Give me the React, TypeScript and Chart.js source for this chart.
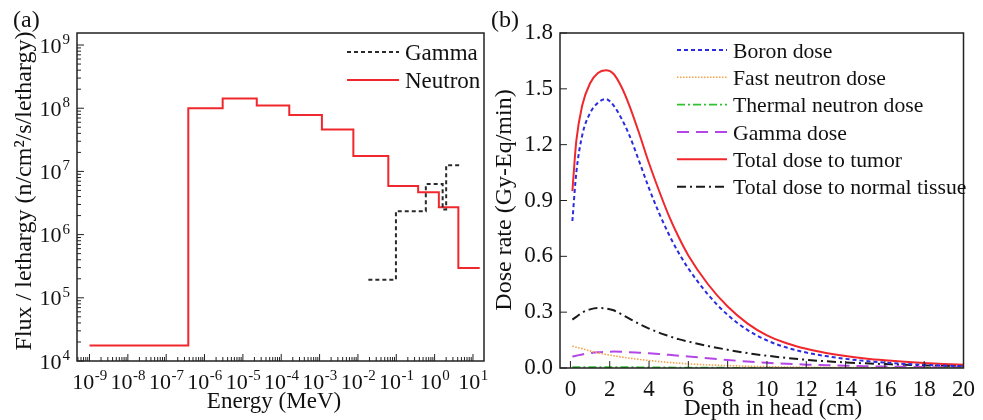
import React, { useEffect, useRef } from "react";
import { Chart, registerables } from "chart.js";

Chart.register(...registerables);

const SERIF = "'Liberation Serif', 'Times New Roman', Times, serif";

// ---------- Panel (a): energy spectra (step histograms) ----------
const neutronEdges = [1e-9, 3.77e-7, 2.97e-6, 2.3e-5, 1.62e-4, 1.15e-3, 7.6e-3, 6.2e-2, 0.372, 1.29, 4.16, 15];
const neutronFlux = [1.76e4, 1.0e8, 1.43e8, 1.1e8, 7.8e7, 4.6e7, 1.76e7, 5.9e6, 4.7e6, 2.7e6, 2.95e5];
const gammaEdges = [0.0187, 0.098, 0.59, 1.62, 2.0, 5.07];
const gammaFlux = [1.93e5, 2.35e6, 6.3e6, 2.5e6, 1.25e7];
const energyExponents = [-9, -8, -7, -6, -5, -4, -3, -2, -1, 0, 1];
const fluxExponents = [4, 5, 6, 7, 8, 9];
const energyRange = [4.72e-10, 19.4];
const fluxRange = [1e4, 1.55e9];
const legendA = ["Gamma", "Neutron"];

// ---------- Panel (b): depth-dose curves ----------
const depth = [0.1, 0.3, 0.6, 1.0, 1.4, 1.8, 2.2, 2.6, 3.0, 3.5, 4, 4.5, 5, 5.5, 6, 7, 8, 9, 10, 11, 12, 13, 14, 15, 16, 17, 18, 19, 20];
const boronDose = [0.79, 1.05, 1.25, 1.37, 1.425, 1.445, 1.41, 1.34, 1.25, 1.11, 0.965, 0.835, 0.72, 0.62, 0.535, 0.395, 0.285, 0.205, 0.148, 0.11, 0.083, 0.064, 0.049, 0.038, 0.029, 0.022, 0.017, 0.013, 0.01];
const fastNeutronDose = [0.117, 0.112, 0.104, 0.092, 0.082, 0.073, 0.066, 0.059, 0.053, 0.046, 0.04, 0.035, 0.03, 0.026, 0.022, 0.017, 0.013, 0.0095, 0.007, 0.0053, 0.004, 0.003, 0.0023, 0.0018, 0.0014, 0.0011, 0.0009, 0.0007, 0.0006];
const thermalNeutronDose = [0.004, 0.0045, 0.005, 0.0052, 0.0052, 0.005, 0.0048, 0.0045, 0.0042, 0.0038, 0.0034, 0.003, 0.0027, 0.0024, 0.0021, 0.0016, 0.0012, 0.0009, 0.0007, 0.0005, 0.0004, 0.0003, 0.0003, 0.0002, 0.0002, 0.0002, 0.0001, 0.0001, 0.0001];
const gammaDose = [0.062, 0.066, 0.073, 0.08, 0.085, 0.087, 0.088, 0.087, 0.085, 0.082, 0.079, 0.075, 0.071, 0.066, 0.062, 0.052, 0.043, 0.035, 0.028, 0.023, 0.018, 0.015, 0.012, 0.0095, 0.0077, 0.0062, 0.005, 0.0041, 0.0034];
const tumorDose = [0.95, 1.22, 1.41, 1.53, 1.585, 1.6, 1.58, 1.51, 1.41, 1.26, 1.1, 0.955, 0.82, 0.705, 0.605, 0.45, 0.33, 0.24, 0.175, 0.133, 0.103, 0.081, 0.064, 0.051, 0.041, 0.033, 0.027, 0.022, 0.018];
const normalTissueDose = [0.26, 0.275, 0.298, 0.315, 0.322, 0.32, 0.31, 0.288, 0.265, 0.237, 0.212, 0.19, 0.172, 0.155, 0.142, 0.118, 0.098, 0.08, 0.066, 0.054, 0.044, 0.036, 0.03, 0.025, 0.021, 0.017, 0.014, 0.012, 0.01];
const depthTicks = [0, 2, 4, 6, 8, 10, 12, 14, 16, 18, 20];
const doseTicks = [0, 0.3, 0.6, 0.9, 1.2, 1.5, 1.8];
const depthRange = [-0.53, 20];
const doseRange = [0, 1.8];
const seriesNamesB = [
  "Boron dose",
  "Fast neutron dose",
  "Thermal neutron dose",
  "Gamma dose",
  "Total dose to tumor",
  "Total dose to normal tissue",
];

const font = (px: number) => `${px}px ${SERIF}`;

function stepPoints(edges: number[], vals: number[]) {
  return edges.map((e, i) => ({ x: e, y: vals[Math.min(i, vals.length - 1)] }));
}

function drawLegend(ctx: CanvasRenderingContext2D, items: any[], x0: number, x1: number, tx: number, ys: number[], size: number) {
  items.forEach((it, i) => {
    const y = ys[i];
    ctx.save();
    ctx.strokeStyle = it.color;
    ctx.lineWidth = it.width;
    ctx.setLineDash(it.dash || []);
    ctx.beginPath();
    ctx.moveTo(x0, y);
    ctx.lineTo(x1, y);
    ctx.stroke();
    ctx.restore();
    ctx.fillStyle = "#111";
    ctx.font = font(size);
    ctx.textAlign = "left";
    ctx.textBaseline = "alphabetic";
    ctx.fillText(it.label, tx, y + 7.5);
  });
}

const decorA = {
  id: "decorA",
  afterDraw(chart: any) {
    const { ctx, chartArea: ca } = chart;
    const xs = chart.scales.x;
    const ys = chart.scales.y;
    ctx.save();
    ctx.setLineDash([]);
    ctx.strokeStyle = "#222";
    ctx.lineWidth = 1.5;
    ctx.strokeRect(ca.left, ca.top, ca.right - ca.left, ca.bottom - ca.top);
    // ticks (inward)
    ctx.lineWidth = 1;
    ctx.beginPath();
    for (let e = -10; e <= 1; e++) {
      for (let m = 1; m <= 9; m++) {
        const v = m * Math.pow(10, e);
        if (v < xs.min || v > xs.max) continue;
        const px = xs.getPixelForValue(v);
        const len = m === 1 ? 7 : 4;
        ctx.moveTo(px, ca.bottom);
        ctx.lineTo(px, ca.bottom - len);
      }
    }
    for (let e = 4; e <= 9; e++) {
      for (let m = 1; m <= 9; m++) {
        const v = m * Math.pow(10, e);
        if (v < ys.min || v > ys.max) continue;
        const py = ys.getPixelForValue(v);
        const len = m === 1 ? 7 : 4;
        ctx.moveTo(ca.left, py);
        ctx.lineTo(ca.left + len, py);
      }
    }
    ctx.stroke();

    ctx.fillStyle = "#111";
    ctx.textBaseline = "alphabetic";
    // x tick labels
    energyExponents.forEach((ex) => {
      const px = xs.getPixelForValue(Math.pow(10, ex));
      const sup = String(ex);
      ctx.font = font(22);
      const wb = ctx.measureText("10").width;
      ctx.font = font(15);
      const ws = ctx.measureText(sup).width;
      const start = px - (wb + ws) / 2;
      ctx.textAlign = "left";
      ctx.font = font(22);
      ctx.fillText("10", start, ca.bottom + 28);
      ctx.font = font(15);
      ctx.fillText(sup, start + wb + 0.5, ca.bottom + 19);
    });
    // y tick labels
    fluxExponents.forEach((ex) => {
      const py = ys.getPixelForValue(Math.pow(10, ex));
      const sup = String(ex);
      ctx.font = font(15);
      const ws = ctx.measureText(sup).width;
      const right = ca.left - 7;
      ctx.textAlign = "left";
      ctx.fillText(sup, right - ws, py - 1);
      ctx.font = font(22);
      ctx.textAlign = "right";
      ctx.fillText("10", right - ws - 1, py + 7.5);
    });

    // axis titles
    ctx.font = font(23);
    ctx.textAlign = "center";
    ctx.fillText("Energy (MeV)", 274, 408);
    ctx.save();
    ctx.translate(31, 191);
    ctx.rotate(-Math.PI / 2);
    ctx.font = font(24);
    ctx.textAlign = "center";
    ctx.fillText("Flux / lethargy (n/cm\u00B2/s/lethargy)", 0, 0);
    ctx.restore();

    // panel label
    ctx.font = font(24);
    ctx.textAlign = "left";
    ctx.fillText("(a)", 13, 27);

    // legend
    const ds = chart.data.datasets;
    drawLegend(
      ctx,
      ds.map((d: any) => ({ label: d.label, color: d.borderColor, width: d.borderWidth, dash: d.borderDash })),
      347,
      399,
      405,
      [52, 80],
      23
    );
    ctx.restore();
  },
};

const decorB = {
  id: "decorB",
  afterDraw(chart: any) {
    const { ctx, chartArea: ca } = chart;
    const xs = chart.scales.x;
    const ys = chart.scales.y;
    ctx.save();
    ctx.setLineDash([]);
    ctx.strokeStyle = "#222";
    ctx.lineWidth = 1.5;
    ctx.strokeRect(ca.left, ca.top, ca.right - ca.left, ca.bottom - ca.top);
    ctx.lineWidth = 1;
    ctx.beginPath();
    doseTicks.forEach((v) => {
      const py = ys.getPixelForValue(v);
      ctx.moveTo(ca.left, py);
      ctx.lineTo(ca.left + 7, py);
    });
    depthTicks.forEach((v) => {
      const px = xs.getPixelForValue(v);
      ctx.moveTo(px, ca.bottom);
      ctx.lineTo(px, ca.bottom - 7);
    });
    ctx.stroke();

    ctx.fillStyle = "#111";
    ctx.textBaseline = "alphabetic";
    ctx.font = font(23);
    ctx.textAlign = "center";
    ctx.fillText("Depth in head (cm)", 283, 415);
    ctx.save();
    ctx.translate(20.5, 200);
    ctx.rotate(-Math.PI / 2);
    ctx.font = font(24);
    ctx.textAlign = "center";
    ctx.fillText("Dose rate (Gy-Eq/min)", 0, 0);
    ctx.restore();

    ctx.font = font(24);
    ctx.textAlign = "left";
    ctx.fillText("(b)", 1, 27);

    const ds = chart.data.datasets;
    drawLegend(
      ctx,
      ds.map((d: any) => ({ label: d.label, color: d.borderColor, width: d.borderWidth, dash: d.borderDash })),
      187,
      237,
      243,
      [50, 77.3, 104.7, 132, 159.3, 186.7],
      21.7
    );
    ctx.restore();
  },
};

export default function App() {
  const refA = useRef<HTMLCanvasElement>(null);
  const refB = useRef<HTMLCanvasElement>(null);

  useEffect(() => {
    const chartA = new Chart(refA.current as HTMLCanvasElement, {
      type: "line",
      data: {
        datasets: [
          {
            label: legendA[0],
            data: stepPoints(gammaEdges, gammaFlux),
            stepped: "before",
            borderColor: "#2a2a2a",
            borderWidth: 2,
            borderDash: [4, 3],
            pointRadius: 0,
            fill: false,
          },
          {
            label: legendA[1],
            data: stepPoints(neutronEdges, neutronFlux),
            stepped: "before",
            borderColor: "#f0282d",
            borderWidth: 2,
            pointRadius: 0,
            fill: false,
          },
        ],
      } as any,
      options: {
        animation: false,
        responsive: false,
        layout: { padding: { left: 77, right: 6, top: 33, bottom: 59 } },
        scales: {
          x: { type: "logarithmic", min: energyRange[0], max: energyRange[1], display: false },
          y: { type: "logarithmic", min: fluxRange[0], max: fluxRange[1], display: false },
        },
        plugins: { legend: { display: false }, tooltip: { enabled: false } },
      } as any,
      plugins: [decorA],
    });

    const mk = (arr: number[]) => depth.map((d, i) => ({ x: d, y: arr[i] }));
    const seriesB = [boronDose, fastNeutronDose, thermalNeutronDose, gammaDose, tumorDose, normalTissueDose];
    const styleB = [
      { color: "#2b2be0", width: 2, dash: [4, 3] },
      { color: "#f2a24a", width: 1.6, dash: [1.5, 1.5] },
      { color: "#2fc42f", width: 1.8, dash: [8, 3, 2, 3] },
      { color: "#b446e8", width: 2, dash: [12, 7] },
      { color: "#f0282d", width: 2, dash: [] as number[] },
      { color: "#1a1a1a", width: 2, dash: [9, 4, 2, 4] },
    ];
    const chartB = new Chart(refB.current as HTMLCanvasElement, {
      type: "line",
      data: {
        datasets: seriesB.map((arr, i) => ({
          label: seriesNamesB[i],
          data: mk(arr),
          borderColor: styleB[i].color,
          borderWidth: styleB[i].width,
          borderDash: styleB[i].dash,
          pointRadius: 0,
          fill: false,
          cubicInterpolationMode: "monotone",
        })),
      } as any,
      options: {
        animation: false,
        responsive: false,
        layout: { padding: { left: 0, right: 12, top: 33, bottom: 0 } },
        scales: {
          x: {
            type: "linear",
            min: depthRange[0],
            max: depthRange[1],
            grid: { display: false, drawTicks: false },
            border: { display: false },
            ticks: {
              font: { family: SERIF, size: 23 },
              color: "#111",
              padding: 8,
              maxRotation: 0,
              autoSkip: false,
              callback: (v: any) => String(v),
            },
            afterBuildTicks: (s: any) => {
              s.ticks = depthTicks.map((v) => ({ value: v }));
            },
            afterFit: (s: any) => {
              s.height = 52;
            },
          },
          y: {
            type: "linear",
            min: doseRange[0],
            max: doseRange[1],
            grid: { display: false, drawTicks: false },
            border: { display: false },
            ticks: {
              font: { family: SERIF, size: 23 },
              color: "#111",
              padding: 7,
              autoSkip: false,
              callback: (v: any) => Number(v).toFixed(1),
            },
            afterBuildTicks: (s: any) => {
              s.ticks = doseTicks.map((v) => ({ value: v }));
            },
            afterFit: (s: any) => {
              s.width = 70;
            },
          },
        },
        plugins: { legend: { display: false }, tooltip: { enabled: false } },
      } as any,
      plugins: [decorB],
    });

    return () => {
      chartA.destroy();
      chartB.destroy();
    };
  }, []);

  return (
    <div style={{ position: "absolute", left: 0, top: 0, width: 983, height: 420, background: "#fff" }}>
      <canvas ref={refA} width={490} height={420} style={{ position: "absolute", left: 0, top: 0 }} />
      <canvas ref={refB} width={493} height={420} style={{ position: "absolute", left: 490, top: 0 }} />
    </div>
  );
}
